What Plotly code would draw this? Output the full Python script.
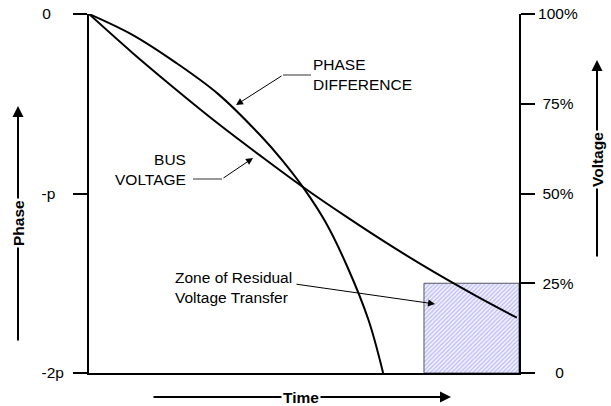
import plotly.graph_objects as go

# ---- data ----
bus_t = [0, 1, 2, 3, 4, 5, 6, 7, 8, 9, 9.95]
bus_v = [100, 89.3, 79.2, 69.5, 60.4, 51.6, 43.4, 35.6, 28.3, 21.5, 15.4]   # % voltage

phase_t = [0, 1, 2, 3, 4, 4.5, 5, 5.5, 6, 6.5, 6.84]
phase_v = [0, -0.115, -0.268, -0.445, -0.680, -0.817, -0.973, -1.159, -1.404, -1.705, -2.0]  # units of pi

zone_t = [7.79, 10]      # residual voltage transfer zone (time)
zone_v = [0, 25]         # voltage limits (%)

phase_ticks = [-2, -1, 0]
phase_text = ["-2p", "-p\u00a0\u00a0", "0\u00a0\u00a0\u00a0"]
volt_ticks = [0, 25, 50, 75, 100]
volt_text = ["\u00a0\u00a0\u00a0\u00a00", "\u00a025%", "\u00a050%", "\u00a075%", "100%"]

FONT = "Liberation Sans, Arial, sans-serif"
FS = 15.5
W, H = 611, 406
L, R, T, B = 89, 519, 14, 373


def px(x):
    return (x - L) / (R - L)


def py(y):
    return (B - y) / (B - T)


fig = go.Figure()

fig.add_trace(go.Scatter(
    x=[zone_t[0], zone_t[1], zone_t[1], zone_t[0], zone_t[0]],
    y=[zone_v[0], zone_v[0], zone_v[1], zone_v[1], zone_v[0]],
    yaxis="y2", mode="lines", fill="toself",
    fillcolor="rgba(0,0,0,0)",
    fillpattern=dict(shape="/", fgcolor="#8080f0", bgcolor="#f2f2ff", size=3, solidity=0.4),
    line=dict(color="#555566", width=1), hoverinfo="skip", showlegend=False))

fig.add_trace(go.Scatter(x=bus_t, y=bus_v, yaxis="y2", mode="lines",
                         line=dict(color="black", width=2, shape="spline", smoothing=1.0),
                         showlegend=False))
fig.add_trace(go.Scatter(x=phase_t, y=phase_v, yaxis="y", mode="lines",
                         line=dict(color="black", width=2, shape="spline", smoothing=1.0),
                         showlegend=False))

fig.update_layout(
    width=W, height=H,
    margin=dict(l=L, r=W - R, t=T, b=H - B, pad=0, autoexpand=False),
    paper_bgcolor="white", plot_bgcolor="white",
    font=dict(family=FONT, size=FS, color="black"),
    xaxis=dict(range=[0, 10], showline=True, linecolor="black", linewidth=2,
               showgrid=False, zeroline=False, showticklabels=False, ticks="",
               automargin=False, fixedrange=True),
    yaxis=dict(range=[-2, 0], showline=True, linecolor="black", linewidth=2,
               showgrid=False, zeroline=False, ticks="outside", ticklen=14,
               tickwidth=2, tickcolor="black", tickvals=phase_ticks, ticktext=phase_text,
               ticklabelstandoff=6, tickfont=dict(family=FONT, size=FS), automargin=False),
    yaxis2=dict(range=[0, 100], overlaying="y", side="right", showline=True,
                linecolor="black", linewidth=2, showgrid=False, zeroline=False,
                ticks="outside", ticklen=14, tickwidth=2, tickcolor="black",
                tickvals=volt_ticks, ticktext=volt_text, tickfont=dict(family=FONT, size=FS),
                automargin=False),
)

anns = []
shapes = []


def leader(tip, tail, seg=None):
    anns.append(dict(xref="paper", yref="paper", x=px(tip[0]), y=py(tip[1]),
                     ax=tail[0] - tip[0], ay=tail[1] - tip[1], text="", showarrow=True,
                     arrowhead=2, arrowsize=1.4, arrowwidth=1, arrowcolor="black"))
    if seg:
        shapes.append(dict(type="line", xref="paper", yref="paper",
                           x0=px(seg[0]), y0=py(seg[1]), x1=px(seg[2]), y1=py(seg[1]),
                           line=dict(color="#333", width=1)))


leader((236, 105), (283, 75), (283, 75, 311))
leader((253, 158), (222, 179), (193, 179, 222))
leader((435, 304), (295, 284))

anns.append(dict(xref="paper", yref="paper", x=px(311), y=py(74), xanchor="left",
                 yanchor="middle", align="left", showarrow=False,
                 text="PHASE<br>DIFFERENCE"))
anns.append(dict(xref="paper", yref="paper", x=px(188), y=py(169.5), xanchor="right",
                 yanchor="middle", align="right", showarrow=False,
                 text="BUS<br>VOLTAGE"))
anns.append(dict(xref="paper", yref="paper", x=px(173), y=py(287.5), xanchor="left",
                 yanchor="middle", align="left", showarrow=False,
                 text="Zone of Residual<br>Voltage Transfer"))


def axis_arrow(tip, tail, label, center, angle):
    anns.append(dict(xref="paper", yref="paper", x=px(tip[0]), y=py(tip[1]),
                     ax=tail[0] - tip[0], ay=tail[1] - tip[1], text="", showarrow=True,
                     arrowhead=2, arrowsize=1.1, arrowwidth=2, arrowcolor="black"))
    anns.append(dict(xref="paper", yref="paper", x=px(center[0]), y=py(center[1]),
                     xanchor="center", yanchor="middle", showarrow=False,
                     text="<b>%s</b>" % label, textangle=angle, bgcolor="white",
                     borderpad=1, font=dict(family=FONT, size=FS)))


axis_arrow((18, 106), (18, 342), "Phase", (18, 223), -90)
axis_arrow((597, 60), (597, 258), "Voltage", (597, 160), -90)
axis_arrow((451, 397), (152, 397), "Time", (301, 397), 0)

fig.update_layout(annotations=anns, shapes=shapes)
fig.write_html("out.html", config={"displayModeBar": False},
               post_script="document.body.style.margin='0';document.body.style.padding='0';")
